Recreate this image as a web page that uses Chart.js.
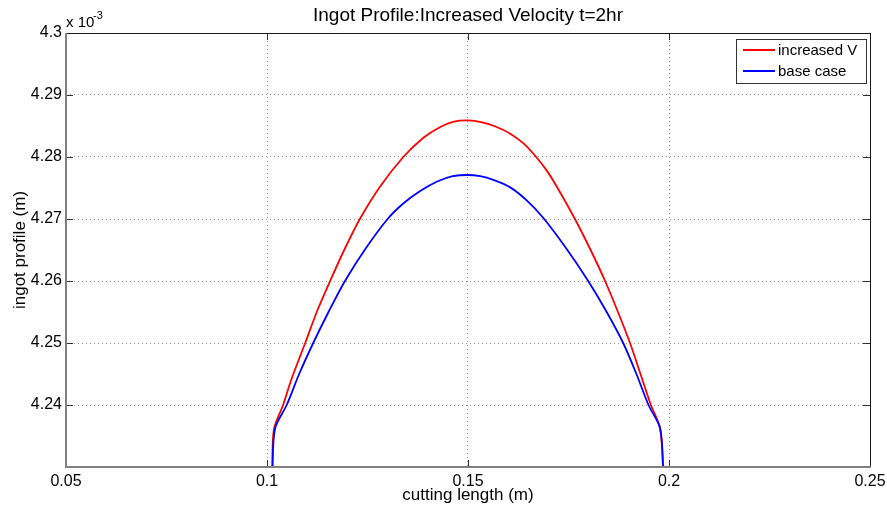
<!DOCTYPE html>
<html>
<head>
<meta charset="utf-8">
<title>Ingot Profile</title>
<script src="https://cdn.jsdelivr.net/npm/chart.js@4.4.0/dist/chart.umd.min.js"></script>
<style>
    body { margin: 0; background: #fff; }
    #wrap { width: 887px; height: 510px; }
</style>
</head>
<body>
<div id="wrap"><canvas id="chart-ingot" width="887" height="510"></canvas></div>
<script>
// Dados (eixo y em unidades de 1e-3 m)
const redX = [0.1013, 0.1017, 0.1040, 0.1061, 0.1095, 0.1125, 0.1157, 0.1192, 0.1231, 0.1281, 0.1339, 0.1389, 0.1430, 0.1465, 0.1500,
              0.1535, 0.1565, 0.1604, 0.1638, 0.1667, 0.1696, 0.1721, 0.1766, 0.1805, 0.1841, 0.1873, 0.1903, 0.1929, 0.1955, 0.1978, 0.1986];
const redY = [4.2290, 4.2360, 4.2400, 4.2442, 4.2500, 4.2552, 4.2600, 4.2650, 4.2700, 4.2752, 4.2800, 4.2831, 4.2848, 4.2857, 4.2859,
              4.2856, 4.2850, 4.2838, 4.2822, 4.2802, 4.2778, 4.2752, 4.2700, 4.2650, 4.2600, 4.2550, 4.2500, 4.2450, 4.2400, 4.2362, 4.2290];
const blueX = [0.1013, 0.1020, 0.1049, 0.1080, 0.1115, 0.1153, 0.1194, 0.1245, 0.1300, 0.1339, 0.1381, 0.1422, 0.1462, 0.1500,
               0.1530, 0.1563, 0.1605, 0.1646, 0.1687, 0.1745, 0.1799, 0.1845, 0.1886, 0.1919, 0.1949, 0.1978, 0.1986];
const blueY = [4.2290, 4.2362, 4.2400, 4.2450, 4.2500, 4.2550, 4.2600, 4.2652, 4.2700, 4.2725, 4.2745, 4.2760, 4.2769, 4.2771,
               4.2769, 4.2763, 4.2751, 4.2730, 4.2702, 4.2652, 4.2600, 4.2550, 4.2500, 4.2450, 4.2400, 4.2362, 4.2290];
const seriesLabels = ['increased V', 'base case'];
const xTicks = [0.05, 0.1, 0.15, 0.2, 0.25];
const yTicks = [4.23, 4.24, 4.25, 4.26, 4.27, 4.28, 4.29, 4.3];

const FONT = '"Liberation Sans", Arial, Helvetica, sans-serif';

function toPoints(xs, ys) {
    return xs.map((x, i) => ({ x: x, y: ys[i] }));
}

function fmt(v) {
    return String(Number(v.toFixed(2)));
}

// Plugin para desenhar moldura, ticks internos, textos e legenda no estilo MATLAB
const matlabDecor = {
    id: 'matlabDecor',
    afterDraw(chart) {
        const ctx = chart.ctx;
        const a = chart.chartArea;
        const xs = chart.scales.x;
        const ys = chart.scales.y;
        ctx.save();

        // ticks internos
        ctx.strokeStyle = '#303030';
        ctx.lineWidth = 1;
        ctx.beginPath();
        xTicks.forEach(t => {
            const px = Math.round(xs.getPixelForValue(t)) + 0.5;
            ctx.moveTo(px, a.bottom); ctx.lineTo(px, a.bottom - 7);
            ctx.moveTo(px, a.top); ctx.lineTo(px, a.top + 7);
        });
        yTicks.forEach(t => {
            const py = Math.round(ys.getPixelForValue(t)) + 0.5;
            ctx.moveTo(a.left, py); ctx.lineTo(a.left + 7, py);
            ctx.moveTo(a.right, py); ctx.lineTo(a.right - 7, py);
        });
        ctx.stroke();

        // moldura
        ctx.strokeStyle = '#1a1a1a';
        ctx.lineWidth = 1;
        ctx.beginPath();
        ctx.moveTo(a.left, a.top + 0.5); ctx.lineTo(a.right + 0.5, a.top + 0.5);
        ctx.lineTo(a.right + 0.5, a.bottom);
        ctx.stroke();
        ctx.strokeStyle = '#808080';
        ctx.lineWidth = 2;
        ctx.beginPath();
        ctx.moveTo(a.left, a.top); ctx.lineTo(a.left, a.bottom);
        ctx.lineTo(a.right + 1, a.bottom);
        ctx.stroke();

        ctx.fillStyle = '#000';
        // título
        ctx.font = '19px ' + FONT;
        ctx.textAlign = 'center';
        ctx.textBaseline = 'alphabetic';
        ctx.fillText('Ingot Profile:Increased Velocity t=2hr', (a.left + a.right) / 2, 21);

        // rótulo eixo x
        ctx.font = '17px ' + FONT;
        ctx.fillText('cutting length (m)', (a.left + a.right) / 2, 500);

        // rótulo eixo y
        ctx.save();
        ctx.translate(25, (a.top + a.bottom) / 2);
        ctx.rotate(-Math.PI / 2);
        ctx.fillText('ingot profile (m)', 0, 0);
        ctx.restore();

        // expoente x 10^-3
        ctx.textAlign = 'left';
        ctx.font = '15px ' + FONT;
        ctx.fillText('x 10', a.left, 27);
        ctx.font = '11px ' + FONT;
        ctx.fillText('-3', a.left + 27, 19);

        // legenda
        const lx = 736, ly = 39, lw = 130, lh = 44;
        ctx.fillStyle = '#fff';
        ctx.fillRect(lx, ly, lw, lh);
        ctx.strokeStyle = '#333';
        ctx.lineWidth = 1;
        ctx.strokeRect(lx + 0.5, ly + 0.5, lw, lh);
        ctx.font = '15px ' + FONT;
        ctx.textBaseline = 'middle';
        chart.data.datasets.forEach((ds, i) => {
            const yy = ly + 11 + i * 21;
            ctx.strokeStyle = ds.borderColor;
            ctx.lineWidth = 2;
            ctx.beginPath();
            ctx.moveTo(lx + 7, yy); ctx.lineTo(lx + 39, yy);
            ctx.stroke();
            ctx.fillStyle = '#000';
            ctx.fillText(ds.label, lx + 42, yy + 1);
        });
        ctx.restore();
    }
};

function initChart() {
    const gridColor = ctx => {
        const v = ctx.tick ? ctx.tick.value : null;
        if (v === null) return 'rgba(0,0,0,0)';
        const s = ctx.scale;
        if (Math.abs(v - s.min) < 1e-9 || Math.abs(v - s.max) < 1e-9) return 'rgba(0,0,0,0)';
        return '#8c8c8c';
    };

    new Chart(document.getElementById('chart-ingot'), {
        type: 'line',
        data: {
            datasets: [
                { label: seriesLabels[0], data: toPoints(redX, redY), borderColor: '#ff0000', borderWidth: 1.8, pointRadius: 0, tension: 0.3, order: 1 },
                { label: seriesLabels[1], data: toPoints(blueX, blueY), borderColor: '#0000ff', borderWidth: 1.8, pointRadius: 0, tension: 0.3, order: 0 }
            ]
        },
        options: {
            responsive: false,
            animation: false,
            devicePixelRatio: 1,
            layout: { padding: { top: 33, right: 17, bottom: 0, left: 0 } },
            plugins: { legend: { display: false }, title: { display: false }, tooltip: { enabled: false } },
            scales: {
                x: {
                    type: 'linear', min: 0.05, max: 0.25,
                    afterBuildTicks: s => { s.ticks = xTicks.map(v => ({ value: v })); },
                    afterFit: s => { s.height = 43; s.paddingLeft = 0; s.paddingRight = 0; },
                    ticks: { callback: v => fmt(v), color: '#000', font: { family: FONT, size: 16 }, padding: 5, maxRotation: 0 },
                    grid: { color: gridColor, drawTicks: false, lineWidth: 1 },
                    border: { display: false, dash: [1, 3] }
                },
                y: {
                    type: 'linear', min: 4.23, max: 4.3,
                    afterBuildTicks: s => { s.ticks = yTicks.map(v => ({ value: v })); },
                    afterFit: s => { s.width = 66; s.paddingTop = 0; s.paddingBottom = 0; },
                    ticks: { callback: v => (Math.abs(v - 4.23) < 1e-9 ? '' : fmt(v)), color: '#000', font: { family: FONT, size: 16 }, padding: 4 },
                    grid: { color: gridColor, drawTicks: false, lineWidth: 1 },
                    border: { display: false, dash: [1, 3] }
                }
            }
        },
        plugins: [matlabDecor]
    });
}

initChart();
</script>
</body>
</html>
